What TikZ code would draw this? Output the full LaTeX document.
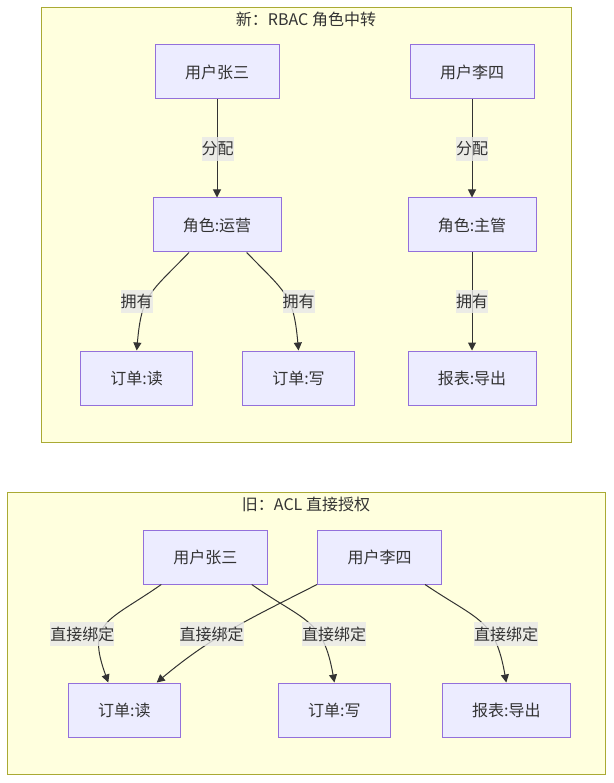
\documentclass[tikz,border=0pt]{standalone}
\usepackage{fontspec}
\setmainfont{Noto Sans CJK SC}
\usetikzlibrary{arrows.meta,calc}
\definecolor{clusterfill}{HTML}{FFFFDE}
\definecolor{clusterline}{HTML}{AAAA33}
\definecolor{nodefill}{HTML}{ECECFF}
\definecolor{nodeline}{HTML}{9370DB}
\definecolor{inkgrey}{HTML}{333333}
\definecolor{lblbg}{HTML}{E8E8E8}
\tikzset{
  cluster/.style={fill=clusterfill, draw=clusterline, line width=1pt},
  grouptitle/.style={text=inkgrey, font=\fontsize{16}{19}\selectfont, inner sep=0pt},
  box/.style={rectangle, fill=nodefill, draw=nodeline, line width=1pt,
    minimum height=54pt, inner sep=0pt, text=inkgrey,
    font=\fontsize{16}{19}\selectfont},
  edge/.style={draw=inkgrey, line width=1pt,
    -{Triangle[length=8pt,width=8pt]}},
  elabel/.style={fill=lblbg, fill opacity=0.8, text opacity=1, text=inkgrey,
    inner xsep=0pt, inner ysep=0pt, minimum height=23.5pt,
    font=\fontsize{16}{19}\selectfont}
}
\begin{document}
\begin{tikzpicture}[x=1pt,y=1pt]
\useasboundingbox (0,0) rectangle (613,-783);
\fill[white] (0,0) rectangle (613,-783);

% ---- groups ----
\draw[cluster] (41,-8) rectangle (571,-442);
\node[grouptitle] (tnew) at (306,-19.5) {新：RBAC 角色中转};
\draw[cluster] (7,-492.5) rectangle (605,-774);
\node[grouptitle] (told) at (306,-504.5) {旧：ACL 直接授权};

% ---- RBAC nodes ----
\node[box, minimum width=124pt] (u1) at (217,-72) {用户张三};
\node[box, minimum width=124pt] (u2) at (472,-72) {用户李四};
\node[box, minimum width=128pt] (r1) at (217,-225) {角色:运营};
\node[box, minimum width=128pt] (r2) at (472,-225) {角色:主管};
\node[box, minimum width=112pt] (p1) at (136.7,-378) {订单:读};
\node[box, minimum width=112pt] (p2) at (298.5,-378) {订单:写};
\node[box, minimum width=128pt] (p3) at (472,-378) {报表:导出};

% ---- ACL nodes ----
\node[box, minimum width=124pt] (zs) at (205.3,-557) {用户张三};
\node[box, minimum width=124pt] (ls) at (379.5,-557) {用户李四};
\node[box, minimum width=112pt] (dr) at (124.3,-710) {订单:读};
\node[box, minimum width=112pt] (dw) at (334.4,-710) {订单:写};
\node[box, minimum width=128pt] (bx) at (506.3,-710) {报表:导出};

% ---- RBAC connectors ----
\draw[edge] (u1) -- (r1);
\draw[edge] (u2) -- (r2);
\draw[edge] ([xshift=-28pt]r1.south) to[out=-134,in=85,looseness=1.3] (p1.north);
\draw[edge] ([xshift=29.7pt]r1.south) to[out=-46,in=95,looseness=1.3] (p2.north);
\draw[edge] (r2) -- (p3);

\node[elabel] (l1) at (217.5,-149) {分配};
\node[elabel] (l2) at (472,-149) {分配};
\node[elabel] (l3) at (136.7,-301.7) {拥有};
\node[elabel] (l4) at (298.7,-301.7) {拥有};
\node[elabel] (l5) at (472,-301.7) {拥有};

% ---- ACL connectors ----
\draw[edge] ([xshift=-44pt]zs.south) to[out=-145,in=110,looseness=1.5] ([xshift=-16pt]dr.north);
\draw[edge] ([xshift=46.4pt]zs.south) to[out=-35,in=100,looseness=1.3] (dw.north);
\draw[edge] (ls.south west) to[out=-153,in=40] ([xshift=32.4pt]dr.north);
\draw[edge] ([xshift=45.5pt]ls.south) to[out=-34,in=100,looseness=1.3] (bx.north);

\node[elabel] (m1) at (82.3,-634) {直接绑定};
\node[elabel] (m2) at (211.7,-634) {直接绑定};
\node[elabel] (m3) at (334.2,-634) {直接绑定};
\node[elabel] (m4) at (506,-634) {直接绑定};
\end{tikzpicture}
\end{document}
